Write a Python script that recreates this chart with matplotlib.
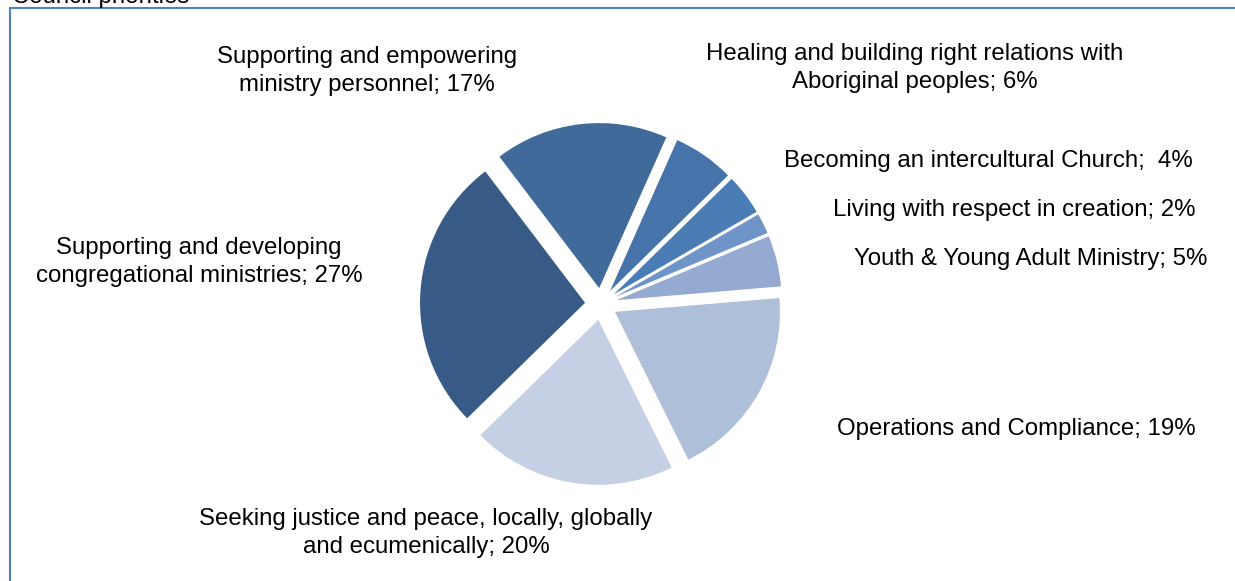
import matplotlib
matplotlib.use("Agg")
import matplotlib.pyplot as plt
from matplotlib.patches import Rectangle

plt.rcParams['font.family'] = ['Liberation Sans', 'DejaVu Sans']

# ---- data ----
categories = [
    "Healing and building right relations with\nAboriginal peoples",
    "Becoming an intercultural Church",
    "Living with respect in creation",
    "Youth & Young Adult Ministry",
    "Operations and Compliance",
    "Seeking justice and peace, locally, globally\nand ecumenically",
    "Supporting and developing\ncongregational ministries",
    "Supporting and empowering\nministry personnel",
]
values = [6, 4, 2, 5, 19, 20, 27, 17]
label_texts = [
    "Healing and building right relations with\nAboriginal peoples; 6%",
    "Becoming an intercultural Church;  4%",
    "Living with respect in creation; 2%",
    "Youth & Young Adult Ministry; 5%",
    "Operations and Compliance; 19%",
    "Seeking justice and peace, locally, globally\nand ecumenically; 20%",
    "Supporting and developing\ncongregational ministries; 27%",
    "Supporting and empowering\nministry personnel; 17%",
]
title = "Council priorities"

# ---- styles / layout ----
colors = ["#4673A9", "#4A7CB6", "#6F94C8", "#95AAD0",
          "#AEBFDA", "#C6D0E4", "#375A86", "#3F6A9A"]
# label centre positions in pixels (x, y from top)
label_pos_px = [(915, 68), (988, 161), (1014, 210), (1031, 259),
                (1016, 429), (426, 533), (199, 262), (367, 71)]

W, H = 1235, 581
cx, cy, R = 601, 304, 165  # pie centre and radius in pixels
FS = 17.3

fig = plt.figure(figsize=(W / 100, H / 100), dpi=100)
ax = fig.add_axes([0, 0, 1, 1])
ax.pie(values, colors=colors, startangle=66, counterclock=False,
       explode=[0.097] * len(values), radius=1,
       wedgeprops=dict(linewidth=0, antialiased=True))
ax.set_xlim(-cx / R, (W - cx) / R)
ax.set_ylim(-(H - cy) / R, cy / R)
ax.set_aspect('equal')
ax.axis('off')

for txt, (px, py) in zip(label_texts, label_pos_px):
    ax.text((px - cx) / R, (cy - py) / R, txt, ha='center', va='center',
            fontsize=FS, color='black', linespacing=1.3)

# border of chart area
fig.patches.append(Rectangle((10 / W, -0.1), 2, 1 - 8 / H + 0.1,
                             transform=fig.transFigure, fill=False,
                             edgecolor='#4F81BD', linewidth=1.5))
fig.text(12 / W, 1 - 2.5 / H, title, ha='left', va='baseline',
         fontsize=FS, color='black')

fig.savefig("out.png", dpi=100)
